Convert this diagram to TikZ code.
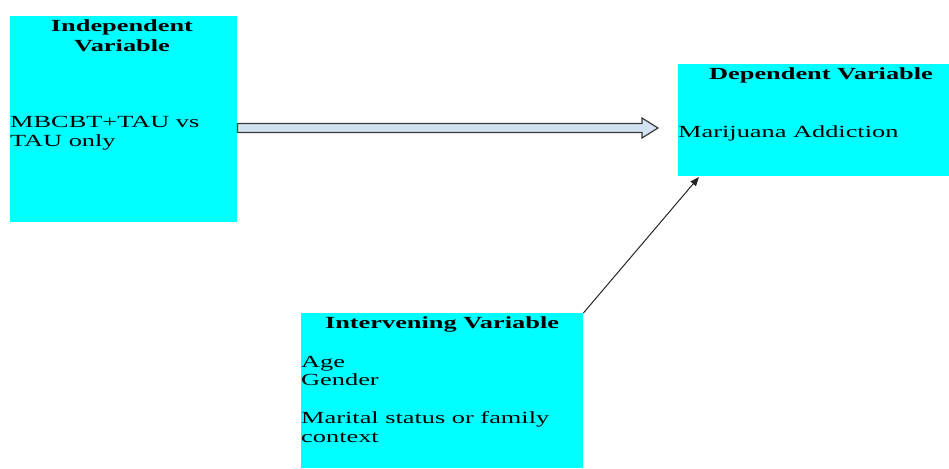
\documentclass[tikz,border=0pt]{standalone}
\usepackage{fontspec}
\setmainfont{Liberation Serif}[FakeStretch=1.55]
\usetikzlibrary{arrows.meta,calc}
\definecolor{boxcyan}{HTML}{00FFFF}
\definecolor{arrowfill}{HTML}{D2E2F2}
\definecolor{arrowedge}{HTML}{3A3A3A}
\tikzset{
  varbox/.style={fill=boxcyan, draw=none, anchor=north west, inner sep=0pt},
  head/.style={font=\fontsize{17}{19}\selectfont\bfseries, anchor=base, inner sep=0pt},
  body/.style={font=\fontsize{17}{19}\selectfont, anchor=base west, inner sep=0pt},
  blockarrow/.style={fill=arrowfill, draw=arrowedge, line width=1.2pt, line join=miter},
  thinarrow/.style={draw=black!85, line width=1pt, -{Triangle[length=9pt,width=7pt]}}
}
\begin{document}
\begin{tikzpicture}[x=1pt,y=-1pt]
\useasboundingbox (0,0) rectangle (949,468);
% boxes
\node[varbox, minimum width=227pt, minimum height=206pt] (ind) at (10,16) {};
\node[varbox, minimum width=271pt, minimum height=112pt] (dep) at (678,64) {};
\node[varbox, minimum width=282pt, minimum height=155pt] (int) at (301,313) {};
% texts
\node[head] (indh1) at (122,32) {Independent};
\node[head] (indh2) at (122,52) {Variable};
\node[body] (indb1) at (10,127) {MBCBT+TAU vs};
\node[body] (indb2) at (10,146) {TAU only};
\node[head] (deph) at (821,80) {Dependent Variable};
\node[body] (depb) at (678,137) {Marijuana Addiction};
\node[head] (inth) at (442,328) {Intervening Variable};
\node[body] (intb1) at (301,367) {Age};
\node[body] (intb2) at (301,385) {Gender};
\node[body] (intb3) at (301,423) {Marital status or family};
\node[body] (intb4) at (301,442) {context};
% block arrow
\coordinate (a1) at (ind.east |- 0,128);
\coordinate (a2) at (658,128);
\draw[blockarrow] ($(a1)+(0,-4.5)$) -- ($(a2)+(-16,-4.5)$) -- ($(a2)+(-16,-10)$) -- (a2)
  -- ($(a2)+(-16,10)$) -- ($(a2)+(-16,4.5)$) -- ($(a1)+(0,4.5)$) -- cycle;
% thin arrow
\coordinate (tip) at (699,177);
\draw[thinarrow] (int.north east) -- (tip);
\end{tikzpicture}
\end{document}
